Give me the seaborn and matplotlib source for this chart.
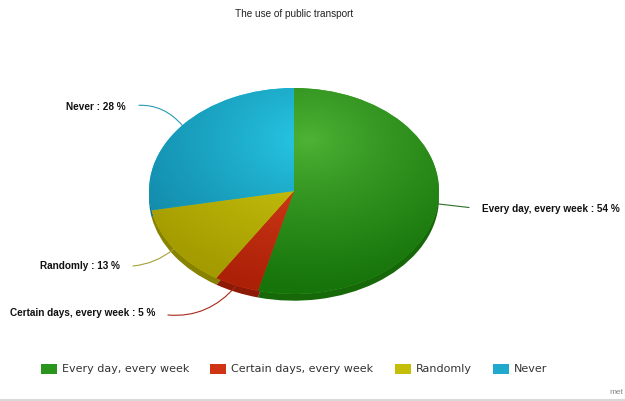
import numpy as np
import seaborn as sns
import matplotlib.pyplot as plt
from matplotlib.patches import Patch
from matplotlib.lines import Line2D

# data
categories = ['Every day, every week', 'Certain days, every week', 'Randomly', 'Never']
shares = [54, 5, 13, 28]
light_colors = ['#4fb436', '#e04a20', '#d6d012', '#28cbe8']
dark_colors = ['#16740a', '#ad2008', '#a39b00', '#1186a6']
side_colors = ['#166809', '#8c1a06', '#878200', '#0e6f8e']
legend_colors = ['#2a951c', '#cf3414', '#c4be08', '#1fa9cc']
line_colors = ['#2f6d2a', '#a8281a', '#a6a236', '#2a9ab4']

sns.set_theme(style='white')
plt.rcParams['font.family'] = ['Liberation Sans', 'DejaVu Sans']

W, H = 625, 401
fig = plt.figure(figsize=(W / 100, H / 100), dpi=100)
ax = fig.add_axes([0, 0, 1, 1])

# pie centre and radii in pixels
cx, cy, rx, ry = 294, 191, 145, 103
xlim = (-cx / rx, (W - cx) / rx)
ylim = (-(H - cy) / ry, cy / ry)

# side (thickness) of the 3d pie
ax.pie(shares, colors=side_colors, startangle=90, counterclock=False,
       center=(0, -0.065), radius=1, wedgeprops=dict(linewidth=0))
wedges, _ = ax.pie(shares, colors=light_colors, startangle=90, counterclock=False,
                   radius=1, wedgeprops=dict(linewidth=0))

# radial shading inside each slice
gx, gy = np.meshgrid(np.linspace(-1, 1, 300), np.linspace(-1, 1, 300))
grad = np.clip(np.hypot(gx - 0.1, gy - 0.5) / 1.45, 0, 1) ** 0.8
for w, c0, c1 in zip(wedges, light_colors, dark_colors):
    cmap = sns.blend_palette([c0, c1], as_cmap=True)
    im = ax.imshow(grad, cmap=cmap, extent=(-1, 1, -1, 1), origin='lower',
                   aspect='auto', zorder=w.get_zorder() + 0.1, vmin=0, vmax=1)
    im.set_clip_path(w)

ax.set_aspect('auto')
ax.set_xlim(*xlim)
ax.set_ylim(*ylim)
ax.axis('off')

# labels with connectors
label_pos = [(482, 209, 'left', 0.0), (155, 313, 'right', 0.3),
             (120, 266, 'right', 0.2), (126, 107, 'right', -0.3)]
angles = 90 - 360 * (np.cumsum(shares) - np.array(shares) / 2) / sum(shares)
for cat, val, ang, (px, py, ha, rad), lc in zip(categories, shares, angles, label_pos, line_colors):
    ex, ey = np.cos(np.radians(ang)), np.sin(np.radians(ang))
    ax.annotate(f'{cat} : {val} %', xy=(ex, ey), xytext=(px, H - py),
                textcoords='figure pixels', ha=ha, va='center',
                fontsize=7.2, fontweight='bold', color='#111111',
                arrowprops=dict(arrowstyle='-', color=lc, lw=0.8, shrinkA=7, shrinkB=0,
                                relpos=(0 if ha == 'left' else 1, 0.5),
                                connectionstyle=f'arc3,rad={rad}'))

fig.text(cx / W, 1 - 14 / H, 'The use of public transport', ha='center', va='center',
         fontsize=7.2, color='#222222')

handles = [Patch(facecolor=c, edgecolor='none') for c in legend_colors]
fig.legend(handles, categories, loc='center', bbox_to_anchor=(cx / W, 1 - 369 / H),
           ncol=4, frameon=False, handlelength=1.45, handleheight=1.0,
           handletextpad=0.45, columnspacing=1.9,
           prop=dict(family='DejaVu Sans', size=8), labelcolor='#333333')

fig.text(616 / W, 1 - 392 / H, 'met', ha='center', va='center', fontsize=6, color='#888888')
fig.add_artist(Line2D([0, 1], [1.5 / H, 1.5 / H], transform=fig.transFigure,
                      color='#d9d9d9', lw=1.5))

fig.savefig('out.png', dpi=100, facecolor='white')
